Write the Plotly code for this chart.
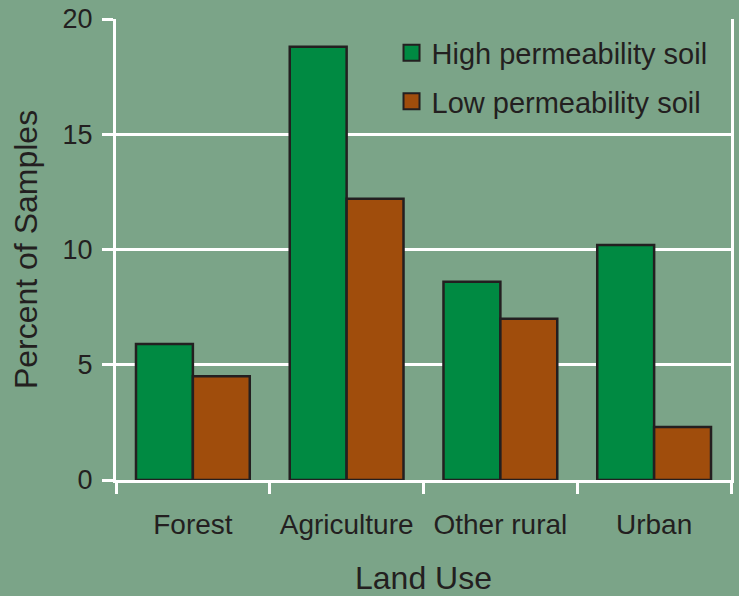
import plotly.graph_objects as go

# Share of samples by land use and soil permeability
land_use = ["Forest", "Agriculture", "Other rural", "Urban"]
high_perm = [5.9, 18.8, 8.6, 10.2]
low_perm = [4.5, 12.2, 7.0, 2.3]
y_ticks = [0, 5, 10, 15, 20]

BG = "#7BA488"
GREEN = "#008A42"
BROWN = "#A04D0C"
EDGE = "#231F20"
TEXT = "#231F20"
FONT = "Liberation Sans, Arial, sans-serif"

fig = go.Figure()

fig.add_trace(go.Bar(
    x=land_use, y=high_perm, name="High permeability soil",
    marker=dict(color=GREEN, line=dict(color=EDGE, width=2.5)),
    showlegend=False,
))
fig.add_trace(go.Bar(
    x=land_use, y=low_perm, name="Low permeability soil",
    marker=dict(color=BROWN, line=dict(color=EDGE, width=2.5)),
    showlegend=False,
))

# Larger square swatches for the legend entries
for name, col in [("High permeability soil", GREEN), ("Low permeability soil", BROWN)]:
    fig.add_trace(go.Scatter(
        x=[None], y=[None], mode="markers", name=name, legendgroup=name,
        marker=dict(symbol="square", size=16, color=col,
                    line=dict(color=EDGE, width=2)),
    ))

fig.update_layout(
    width=739, height=596,
    margin=dict(l=116, r=8, t=19, b=116),
    paper_bgcolor=BG, plot_bgcolor=BG,
    font=dict(family=FONT, color=TEXT, size=27),
    barmode="group", bargap=0.26, bargroupgap=0,
    legend=dict(
        x=0.448, y=0.982, xanchor="left", yanchor="top",
        bgcolor="rgba(0,0,0,0)", font=dict(size=29, color=TEXT),
        traceorder="grouped", tracegroupgap=8,
    ),
)

fig.update_xaxes(
    type="category", automargin=False,
    showline=True, linecolor="white", linewidth=3,
    ticks="outside", tickson="boundaries", ticklen=11,
    tickwidth=3, tickcolor="white",
    tickfont=dict(size=28, color=TEXT), ticklabelstandoff=17,
    showgrid=False,
    title=dict(text="Land Use", font=dict(size=32, color=TEXT), standoff=30),
)
fig.update_yaxes(
    range=[0, 20], tickvals=y_ticks, automargin=False,
    showline=True, linecolor="white", linewidth=3, mirror=True,
    ticks="outside", ticklen=11, tickwidth=3, tickcolor="white",
    tickfont=dict(size=27, color=TEXT), ticklabelstandoff=4,
    showgrid=True, gridcolor="white", gridwidth=3,
    zeroline=False,
    title=dict(text="Percent of Samples", font=dict(size=32, color=TEXT), standoff=16),
)

fig.write_html("out.html")
